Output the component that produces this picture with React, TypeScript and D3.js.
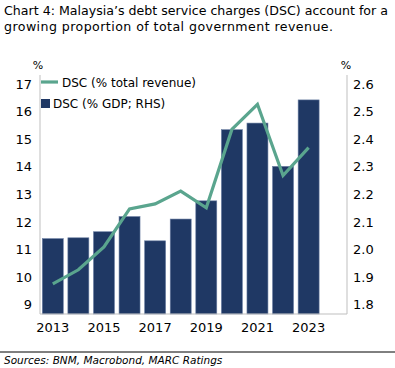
import React from 'react';
import * as d3 from 'd3';

const years = ['2013','2014','2015','2016','2017','2018','2019','2020','2021','2022','2023','2024'];
const dscGdp = [2.04, 2.043, 2.065, 2.12, 2.032, 2.111, 2.177, 2.435, 2.459, 2.302, 2.543];
const dscRevenue = [9.76, 10.27, 11.1, 12.48, 12.66, 13.12, 12.52, 15.36, 16.27, 13.69, 14.7];
const leftTicks = [9, 10, 11, 12, 13, 14, 15, 16, 17];
const rightTicks = [1.8, 1.9, 2.0, 2.1, 2.2, 2.3, 2.4, 2.5, 2.6];
const xLabels = ['2013','2015','2017','2019','2021','2023'];

const W = 395, H = 368;
const left = 40, right = 347, top = 75, bottom = 314;
const font = 'DejaVu Sans, Verdana, sans-serif';

export default function App() {
  const x = d3.scaleBand().domain(years).range([left, right]).paddingInner(0.18).paddingOuter(0.09);
  const yL = d3.scaleLinear().domain([8.6667, 17.3333]).range([bottom, top]);
  const yR = d3.scaleLinear().domain([1.76667, 2.63333]).range([bottom, top]);

  const line = d3.line<number>()
    .x((_, i) => (x(years[i]) as number) + x.bandwidth() / 2)
    .y(d => yL(d));

  return (
    <svg width={W} height={H} style={{position: 'absolute', left: 0, top: 0, background: '#fff'}} fontFamily={font}>
      <text x={4} y={15} fontSize={12.6} fill="#000" textLength={384} lengthAdjust="spacing">
        Chart 4: Malaysia’s debt service charges (DSC) account for a
      </text>
      <text x={4} y={31} fontSize={12.6} fill="#000" textLength={329} lengthAdjust="spacing">
        growing proportion of total government revenue.
      </text>

      {dscGdp.map((v, i) => (
        <rect key={years[i]} x={x(years[i])} y={yR(v)} width={x.bandwidth()} height={bottom - yR(v)}
          fill="#1F3864" stroke="#6B7FA3" strokeWidth={0.6} />
      ))}

      <path d={line(dscRevenue) || ''} fill="none" stroke="#5AA58E" strokeWidth={3.2} strokeLinejoin="miter" />

      <line x1={left} x2={left} y1={top} y2={bottom} stroke="#BFBFBF" strokeWidth={1} />
      <line x1={right} x2={right} y1={top} y2={bottom} stroke="#BFBFBF" strokeWidth={1} />
      <line x1={left} x2={right} y1={bottom} y2={bottom} stroke="#BFBFBF" strokeWidth={1} />

      {leftTicks.map(t => (
        <text key={t} x={32} y={yL(t)} dy="0.35em" textAnchor="end" fontSize={13} fill="#000">{t}</text>
      ))}
      {rightTicks.map(t => (
        <text key={t} x={353} y={yR(t)} dy="0.35em" textAnchor="start" fontSize={13} fill="#000">{t.toFixed(1)}</text>
      ))}
      {xLabels.map(l => (
        <text key={l} x={(x(l) as number) + x.bandwidth() / 2} y={332} textAnchor="middle" fontSize={13} fill="#000">{l}</text>
      ))}

      <text x={38} y={69} textAnchor="middle" fontSize={11} fill="#000">%</text>
      <text x={346} y={69} textAnchor="middle" fontSize={11} fill="#000">%</text>

      <line x1={41} x2={58} y1={82} y2={82} stroke="#5AA58E" strokeWidth={3.2} />
      <text x={62} y={86.5} fontSize={12} fill="#000">DSC (% total revenue)</text>
      <rect x={41} y={99} width={9} height={9} fill="#1F3864" />
      <text x={53} y={107.5} fontSize={12} fill="#000">DSC (% GDP; RHS)</text>

      <line x1={0} x2={W} y1={352} y2={352} stroke="#000" strokeWidth={1} />
      <text x={4} y={364} fontSize={10.5} fontStyle="italic" fill="#000">Sources: BNM, Macrobond, MARC Ratings</text>
    </svg>
  );
}
